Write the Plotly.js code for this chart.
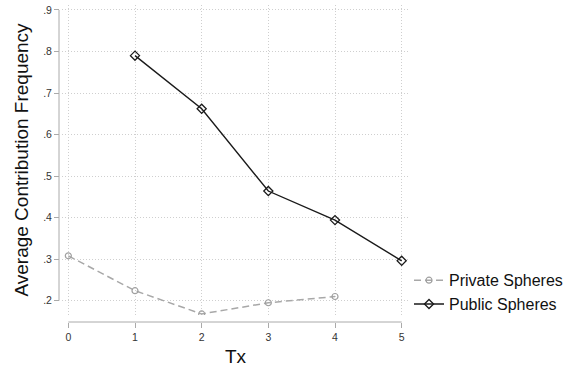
<!DOCTYPE html>
<html>
<head>
<meta charset="utf-8">
<script src="https://cdn.plot.ly/plotly-3.0.1.min.js"></script>
<style>html,body{margin:0;padding:0;background:#fff;}#chart{width:574px;height:371px;}</style>
</head>
<body>
<div id="chart"></div>
<script>
var tx = [0, 1, 2, 3, 4, 5];
var privateTx = [0, 1, 2, 3, 4];
var privateVals = [0.308, 0.224, 0.168, 0.195, 0.210];
var publicTx = [1, 2, 3, 4, 5];
var publicVals = [0.790, 0.662, 0.464, 0.394, 0.296];
var yTickVals = [0.2, 0.3, 0.4, 0.5, 0.6, 0.7, 0.8, 0.9];
var yTickText = ['.2', '.3', '.4', '.5', '.6', '.7', '.8', '.9'];
var xTickText = ['0', '1', '2', '3', '4', '5'];

var L = 50, R = 165, T = 5, B = 40;
var W = 574, H = 371;
var pw = W - L - R, ph = H - T - B;
var xDomStart = (62 - L) / pw;
var yAxisPos = (59 - L) / pw;
var yDomStart = (H - B - 315) / ph;
var xAxisPos = (H - B - 322) / ph;

var traces = [
  {
    x: privateTx, y: privateVals, name: 'Private Spheres', type: 'scatter', mode: 'lines+markers',
    line: {color: '#a8a8a8', width: 1.5, dash: '7px,4px'},
    marker: {symbol: 'circle-open', size: 6, color: '#a0a0a0', line: {width: 1.2, color: '#a0a0a0'}}
  },
  {
    x: publicTx, y: publicVals, name: 'Public Spheres', type: 'scatter', mode: 'lines+markers',
    line: {color: '#1a1a1a', width: 1.4},
    marker: {symbol: 'diamond-open', size: 7, color: '#1a1a1a', line: {width: 1.3, color: '#1a1a1a'}}
  }
];

var layout = {
  width: W, height: H,
  margin: {l: L, r: R, t: T, b: B, pad: 0, autoexpand: false},
  paper_bgcolor: '#fff', plot_bgcolor: '#fff',
  font: {family: 'Liberation Sans, Arial, sans-serif', color: '#333'},
  showlegend: true,
  legend: {x: 1.0, y: xAxisPos + 0.18, xanchor: 'left', yanchor: 'top', itemwidth: 30,
           font: {size: 16, color: '#111'}, bgcolor: 'rgba(0,0,0,0)', tracegroupgap: 0},
  xaxis: {
    domain: [xDomStart, 1], anchor: 'free', position: xAxisPos,
    range: [-0.095, 5.11], tickvals: tx, ticktext: xTickText,
    ticks: 'outside', ticklen: 5, tickcolor: '#aaa', tickwidth: 1,
    tickfont: {size: 10.5, color: '#333'},
    showline: false, zeroline: false,
    showgrid: true, gridcolor: '#cfcfcf', griddash: '1px,2px', gridwidth: 1,
    title: {text: 'Tx', font: {size: 19, color: '#111'}, standoff: 8}
  },
  yaxis: {
    domain: [yDomStart, 1], anchor: 'free', position: yAxisPos,
    range: [0.1655, 0.912], tickvals: yTickVals, ticktext: yTickText,
    ticks: 'outside', ticklen: 5, tickcolor: '#aaa', tickwidth: 1,
    tickfont: {size: 10.5, color: '#333'},
    showline: false, zeroline: false,
    showgrid: true, gridcolor: '#cfcfcf', griddash: '1px,2px', gridwidth: 1,
    title: {text: 'Average Contribution Frequency', font: {size: 19, color: '#111'}, standoff: 8}
  },
  shapes: [
    {type: 'line', xref: 'paper', yref: 'y', x0: yAxisPos, x1: yAxisPos, y0: 0.2, y1: 0.9, line: {color: '#aaa', width: 1}},
    {type: 'line', xref: 'x', yref: 'paper', x0: 0, x1: 5, y0: xAxisPos, y1: xAxisPos, line: {color: '#aaa', width: 1}}
  ]
};

Plotly.newPlot('chart', traces, layout, {displayModeBar: false, staticPlot: true});
</script>
</body>
</html>
